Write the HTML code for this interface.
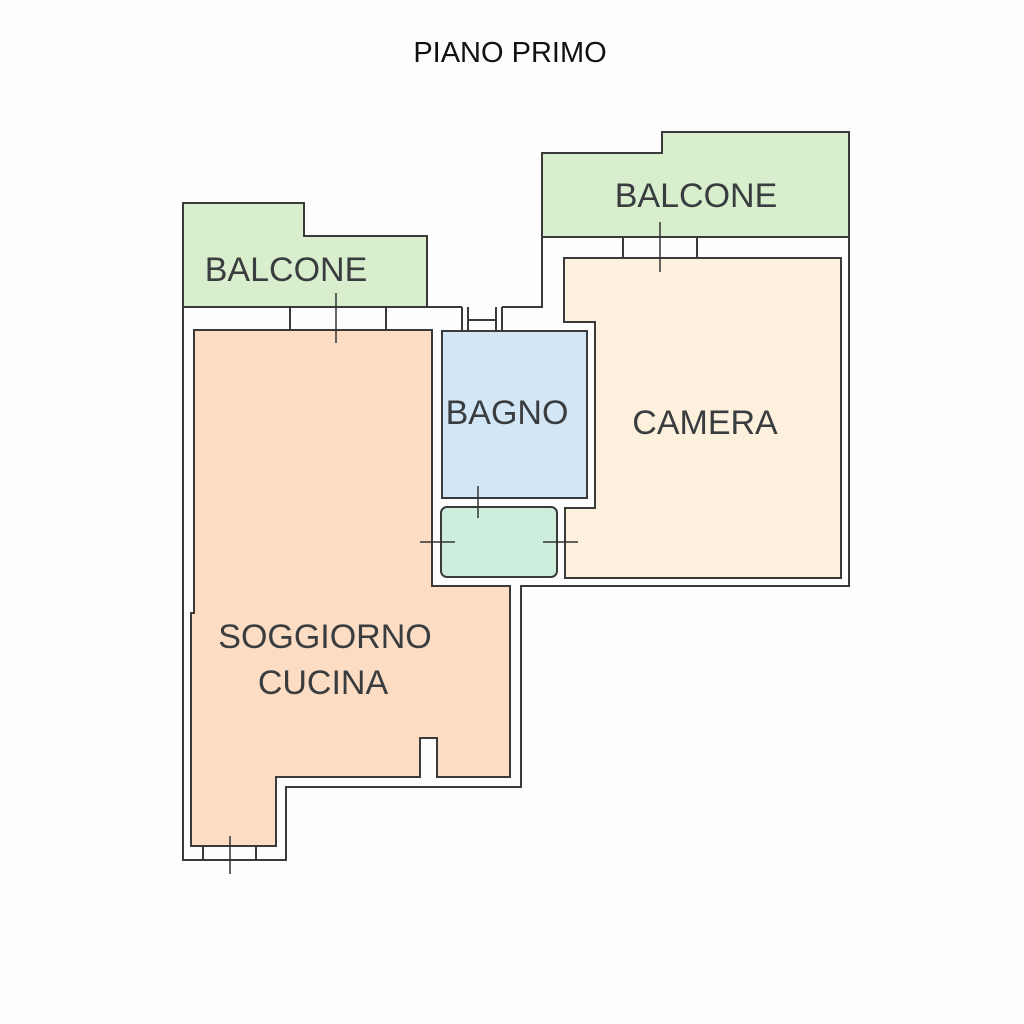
<!DOCTYPE html>
<html><head><meta charset="utf-8"><style>
html,body{margin:0;padding:0;background:#fdfdfd;}
svg{display:block}
text{font-family:"Liberation Sans",sans-serif;fill:#3a3d3f}
</style></head><body>
<svg width="1024" height="1024" viewBox="0 0 1024 1024" xmlns="http://www.w3.org/2000/svg">
<rect width="1024" height="1024" fill="#fdfdfd"/>
<text x="510" y="62" font-size="29" text-anchor="middle" style="fill:#111">PIANO PRIMO</text>

<g stroke="#3a3a3a" stroke-width="2" fill="none">
<path d="M183,307 L183,203 L304,203 L304,236 L427,236 L427,307 Z" fill="#d8eecd"/>
<path d="M542,237 L542,153 L662,153 L662,132 L849,132 L849,237 Z" fill="#d8eecd"/>
<path d="M183,307 L183,860 L286,860 L286,787 L521,787 L521,586 L849,586 L849,237"/>
<path d="M427,307 L462,307 M502,307 L542,307 L542,237"/>
<path d="M462,307 L462,330 M502,307 L502,330 M468,307 L468,330 M496,307 L496,330 M468,320 L496,320"/>
<path d="M194,330 L432,330 L432,586 L510,586 L510,777 L437,777 L437,738 L420,738 L420,777 L276,777 L276,846 L191,846 L191,613 L194,613 Z" fill="#fcdcc3"/>
<rect x="442" y="331" width="145" height="167" fill="#d3e6f5"/>
<rect x="441" y="507" width="116" height="70" rx="6" fill="#cdeedd"/>
<path d="M564,258 L841,258 L841,578 L565,578 L565,508 L595,508 L595,322 L564,322 Z" fill="#fdf0dc"/>
<path d="M290,307 L290,330 M386,307 L386,330 M623,237 L623,258 M697,237 L697,258 M203,846 L203,860 M256,846 L256,860"/>
</g>
<g stroke="#333" stroke-width="1.5">
<line x1="336" y1="293" x2="336" y2="343"/>
<line x1="660" y1="222" x2="660" y2="272"/>
<line x1="478" y1="486" x2="478" y2="518"/>
<line x1="420" y1="542" x2="455" y2="542"/>
<line x1="543" y1="542" x2="578" y2="542"/>
<line x1="230" y1="836" x2="230" y2="874"/>
</g>
<text x="286" y="281" font-size="34" text-anchor="middle">BALCONE</text>
<text x="696" y="207" font-size="34" text-anchor="middle">BALCONE</text>
<text x="507" y="424" font-size="34" text-anchor="middle">BAGNO</text>
<text x="705" y="434" font-size="34" text-anchor="middle">CAMERA</text>
<text x="325" y="648" font-size="34" text-anchor="middle">SOGGIORNO</text>
<text x="323" y="694" font-size="34" text-anchor="middle">CUCINA</text>
</svg>
</body></html>
